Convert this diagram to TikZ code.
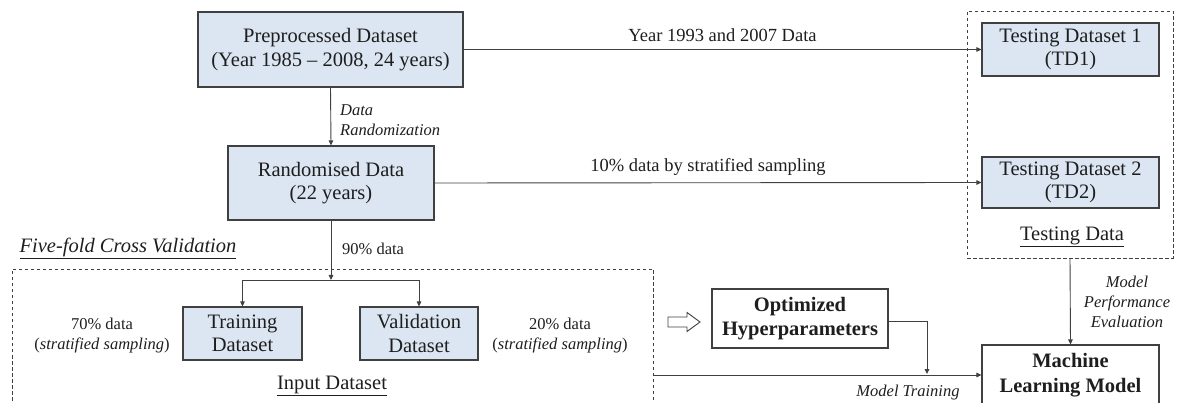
\documentclass[tikz,border=0pt]{standalone}
\usepackage{fontspec}
\setmainfont{Liberation Serif}
\usetikzlibrary{arrows.meta}

\definecolor{boxblue}{HTML}{DCE6F2}
\definecolor{edge}{HTML}{404040}
\definecolor{ink}{HTML}{1E1E1E}

\begin{document}
\begin{tikzpicture}[x=1pt,y=-1pt,
  bigtxt/.style={font=\fontsize{20.5}{23.5}\selectfont},
  midtxt/.style={font=\fontsize{18.5}{21}\selectfont},
  smalltxt/.style={font=\fontsize{16.5}{20}\selectfont},
  databox/.style={draw=edge, line width=1.1pt, fill=boxblue, align=center,
                  inner sep=0pt, text=ink, bigtxt},
  plainbox/.style={draw=edge, line width=1.1pt, fill=white, align=center,
                   inner sep=0pt, text=ink, font=\fontsize{20.5}{24.5}\selectfont\bfseries},
  dashbox/.style={draw=edge, dashed, dash pattern=on 3.5pt off 2.5pt,
                  line width=0.8pt, inner sep=0pt},
  label/.style={text=ink, inner sep=0pt, align=center},
  flow/.style={draw=edge, line width=0.9pt, -{Triangle[length=5pt,width=4.5pt]}},
  link/.style={draw=edge, line width=0.9pt},
]
\useasboundingbox (0,0) rectangle (1178,403);
\clip (0,0) rectangle (1178,403);

% data boxes
\node[databox, minimum width=265pt, minimum height=75pt] (pre) at (330.5,49.5)
  {Preprocessed Dataset\\(Year 1985 -- 2008, 24 years)};
\node[databox, minimum width=206pt, minimum height=74pt] (rand) at (331,183)
  {Randomised Data\\(22 years)};
\node[databox, minimum width=119pt, minimum height=53pt] (train) at (242.5,333.5)
  {Training\\Dataset};
\node[databox, minimum width=118pt, minimum height=53pt] (val) at (419,333.5)
  {Validation\\Dataset};
\node[databox, minimum width=177pt, minimum height=53pt] (td1) at (1070.5,49.5)
  {Testing Dataset 1\\(TD1)};
\node[databox, minimum width=177pt, minimum height=51pt] (td2) at (1070.5,182.5)
  {Testing Dataset 2\\(TD2)};

% white boxes
\node[plainbox, minimum width=176pt, minimum height=59pt] (opt) at (800,318.5)
  {Optimized\\Hyperparameters};
\node[plainbox, minimum width=177pt, minimum height=60pt] (ml) at (1070.5,375)
  {Machine\\Learning Model};

% dashed groups
\node[dashbox, minimum width=641pt, minimum height=162pt] (inbox) at (332.5,350) {};
\node[dashbox, minimum width=206pt, minimum height=247pt] (testbox) at (1070,134.5) {};

% group titles
\node[label, font=\fontsize{20.5}{23.5}\selectfont\itshape] (cv) at (128,248)
  {\underline{Five-fold Cross Validation}};
\node[label, bigtxt] (inlab) at (332,386) {\underline{Input Dataset}};
\node[label, bigtxt] (tdlab) at (1072,237) {\underline{Testing Data}};

% connectors
\draw[flow] (pre.east) -- (td1.west)
  node[label, midtxt, pos=0.5, above=7pt] {Year 1993 and 2007 Data};
\draw[flow] (rand.east) -- (td2.west)
  node[label, midtxt, pos=0.5, above=7pt] {10\% data by stratified sampling};
\draw[flow] (pre.south) -- (rand.north);
\node[label, anchor=west, align=left, font=\fontsize{16.5}{20}\selectfont\itshape]
  (randlab) at (340,120) {Data\\Randomization};

\coordinate (split) at (331,280);
\draw[flow] (rand.south) -- (split);
\node[label, smalltxt, anchor=west] (ninety) at (342,249) {90\% data};
\draw[link] (train.north |- split) -- (val.north |- split);
\draw[flow] (train.north |- split) -- (train.north);
\draw[flow] (val.north |- split) -- (val.north);

\node[label, smalltxt] (seventy) at (102,336) {70\% data\\(\textit{stratified sampling})};
\node[label, smalltxt] (twenty) at (560,336) {20\% data\\(\textit{stratified sampling})};

% hollow arrow towards the hyperparameters
\draw[edge, line width=0.9pt, fill=white]
  (668,317) -- (687,317) -- (687,312.5) -- (700,322) -- (687,331.5) -- (687,327) -- (668,327) -- cycle;

\coordinate (merge) at (927,374);
\draw[flow] ([yshift=-2.5pt]opt.east) -| (merge);
\draw[flow] (inbox.east |- ml.west) -- (ml.west);
\node[label, font=\fontsize{16.5}{20}\selectfont\itshape] (trainlab) at (908,393) {Model Training};

\draw[flow] (testbox.south) -- (ml.north);
\node[label, font=\fontsize{16.5}{20}\selectfont\itshape] (evallab) at (1127,302)
  {Model\\Performance\\Evaluation};
\end{tikzpicture}
\end{document}
